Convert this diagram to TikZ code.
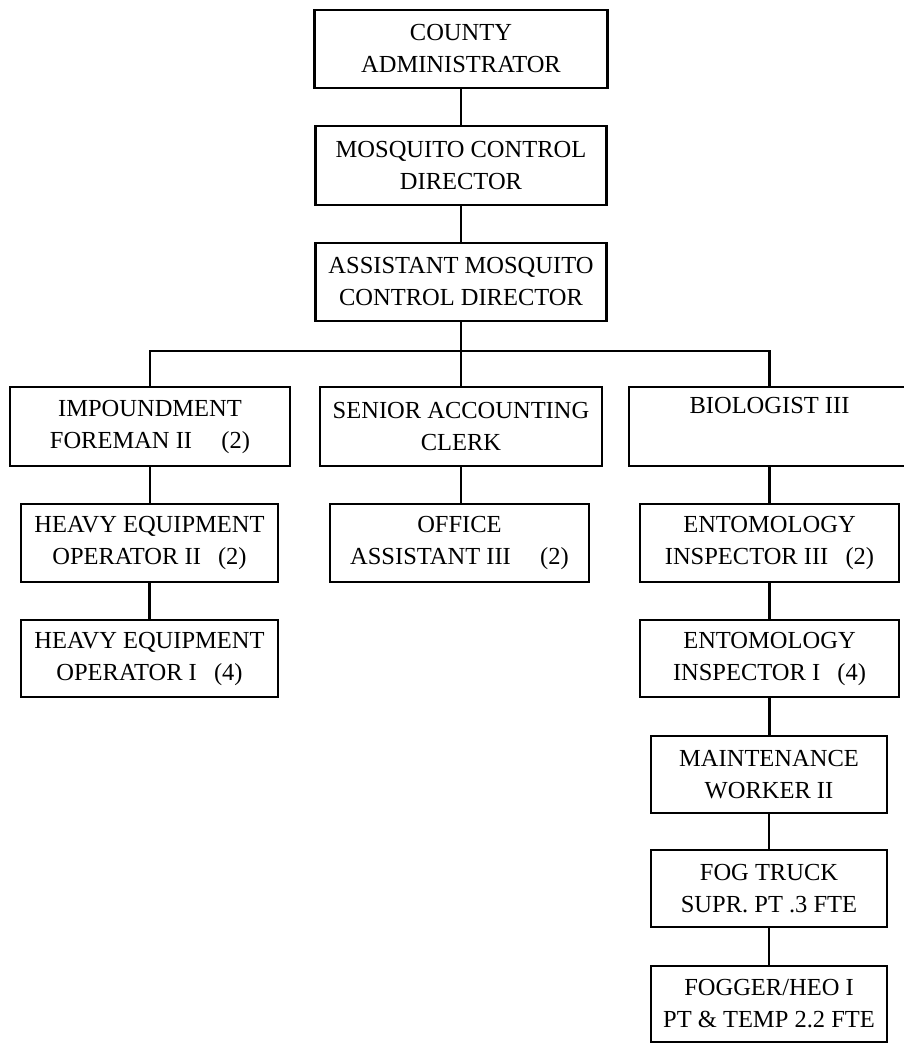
\documentclass[tikz,border=0pt]{standalone}
\usepackage{fontspec}
\setmainfont{Liberation Serif}
\begin{document}
\begin{tikzpicture}[x=1pt,y=1pt,
  post/.style={draw=black, line width=2.2pt, fill=white, inner sep=0pt,
    align=center, font=\fontsize{24.5}{32}\selectfont},
  link/.style={draw=black, line width=2.2pt}]
\useasboundingbox (0,0) rectangle (903,-1043);
\fill[white] (0,0) rectangle (903,-1043);

% top of the chain
\node[post, minimum width=293pt, minimum height=78pt] (ca) at (461,-49)
  {COUNTY\\ADMINISTRATOR};
\node[post, minimum width=291pt, minimum height=79pt] (mcd) at (461,-165.5)
  {MOSQUITO CONTROL\\DIRECTOR};
\node[post, minimum width=291pt, minimum height=78pt] (amcd) at (461,-282)
  {ASSISTANT MOSQUITO\\CONTROL DIRECTOR};

% second level
\node[post, minimum width=280pt, minimum height=79pt] (imp) at (150,-426.5)
  {IMPOUNDMENT\\FOREMAN II\hspace{1.2em}(2)};
\node[post, minimum width=282pt, minimum height=79pt] (sac) at (461,-426.5)
  {SENIOR ACCOUNTING\\CLERK};
\node[post, minimum width=281pt, minimum height=79pt] (bio) at (769.5,-426.5)
  {BIOLOGIST III\\\strut};

% left branch
\node[post, minimum width=257pt, minimum height=78pt] (heo2) at (149.5,-543)
  {HEAVY EQUIPMENT\\OPERATOR II\hspace{0.7em}(2)};
\node[post, minimum width=257pt, minimum height=77pt] (heo1) at (149.5,-658.5)
  {HEAVY EQUIPMENT\\OPERATOR I\hspace{0.7em}(4)};

% middle branch
\node[post, minimum width=259pt, minimum height=78pt] (oa) at (459.5,-543)
  {OFFICE\\ASSISTANT III\hspace{1.2em}(2)};

% right branch
\node[post, minimum width=259pt, minimum height=78pt] (ei3) at (769.5,-543)
  {ENTOMOLOGY\\INSPECTOR III\hspace{0.7em}(2)};
\node[post, minimum width=259pt, minimum height=77pt] (ei1) at (769.5,-658.5)
  {ENTOMOLOGY\\INSPECTOR I\hspace{0.7em}(4)};
\node[post, minimum width=236pt, minimum height=77pt] (mw) at (769,-774.5)
  {MAINTENANCE\\WORKER II};
\node[post, minimum width=236pt, minimum height=77pt] (fts) at (769,-888.5)
  {FOG TRUCK\\SUPR. PT .3 FTE};
\node[post, minimum width=236pt, minimum height=76pt] (fog) at (769,-1004)
  {FOGGER/HEO I\\PT \& TEMP 2.2 FTE};

% connectors, kept vertical from each upper box
\coordinate (bus) at (461,-350.6);
\draw[link] (ca.south) -- (ca.south |- mcd.north);
\draw[link] (mcd.south) -- (mcd.south |- amcd.north);
\draw[link] (amcd.south) -- (bus);
\draw[link] (imp.north) |- (bus) -| (bio.north);
\draw[link] (bus) -- (sac.north);
\draw[link] (imp.south) -- (imp.south |- heo2.north);
\draw[link] (heo2.south) -- (heo2.south |- heo1.north);
\draw[link] (sac.south) -- (sac.south |- oa.north);
\draw[link] (bio.south) -- (bio.south |- ei3.north);
\draw[link] (ei3.south) -- (ei3.south |- ei1.north);
\draw[link] (ei1.south) -- (ei1.south |- mw.north);
\draw[link] (mw.south) -- (mw.south |- fts.north);
\draw[link] (fts.south) -- (fts.south |- fog.north);
\end{tikzpicture}
\end{document}
